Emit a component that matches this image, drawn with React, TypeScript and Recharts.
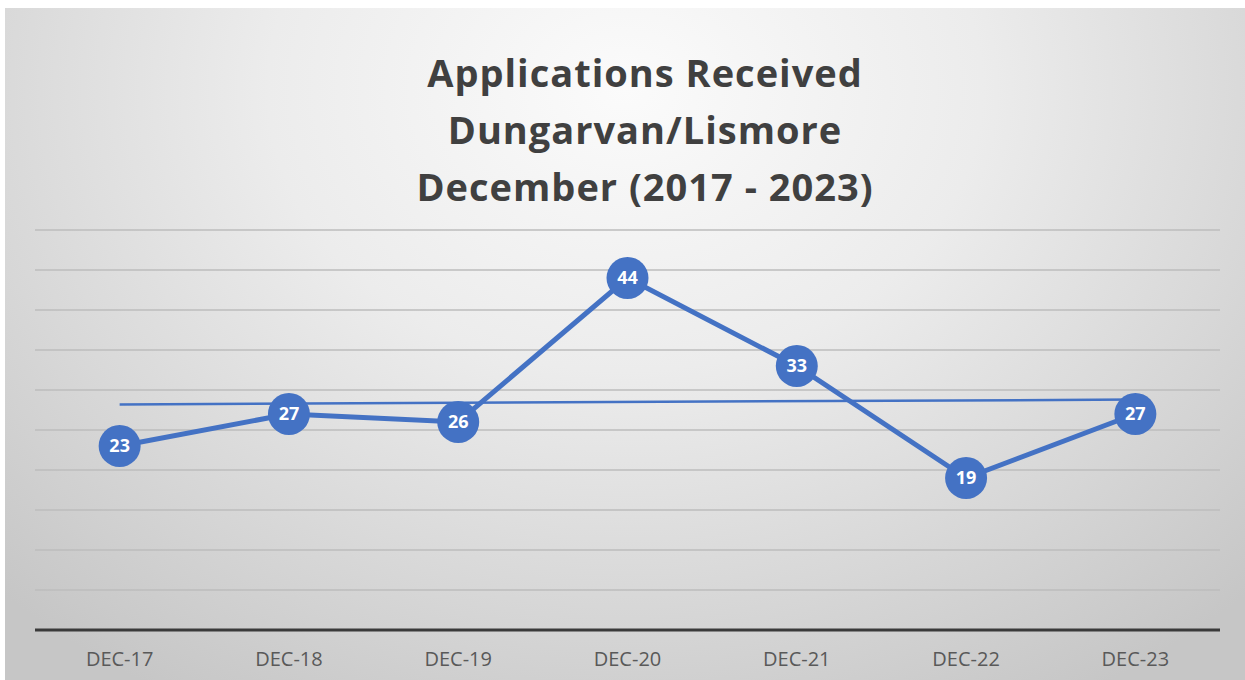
import { LineChart, Line, XAxis, YAxis, CartesianGrid, LabelList, ReferenceLine } from 'recharts';

const MONTHS = ['DEC-17', 'DEC-18', 'DEC-19', 'DEC-20', 'DEC-21', 'DEC-22', 'DEC-23'];
const APPLICATIONS = [23, 27, 26, 44, 33, 19, 27];
const TREND_START = 28.2;
const TREND_END = 28.8;
const Y_TICKS = [0, 5, 10, 15, 20, 25, 30, 35, 40, 45, 50];
const TITLE_LINES = ['Applications Received', 'Dungarvan/Lismore', 'December (2017 - 2023)'];

const BLUE = '#4472C4';
const FONT = '"Open Sans", Lato, sans-serif';

const data = MONTHS.map((m, i) => ({ month: m, value: APPLICATIONS[i] }));

export default function App() {
  return (
    <div style={{ position: 'absolute', left: 0, top: 0, width: 1245, height: 680, background: '#fff', overflow: 'hidden' }}>
      <div
        style={{
          position: 'absolute', left: 5, top: 8, width: 1240, height: 672,
          background: 'radial-gradient(ellipse 72% 105% at 50% 12%, #fbfbfb 0%, #ececec 40%, #d6d6d6 75%, #c6c6c6 100%)',
        }}
      >
        <div
          style={{
            position: 'absolute', left: 20, top: 36, width: 1240, textAlign: 'center',
            fontFamily: FONT, fontWeight: 700, fontSize: 38, letterSpacing: 1, lineHeight: '57px', color: '#404040',
          }}
        >
          {TITLE_LINES.map(t => <div key={t}>{t}</div>)}
        </div>
        <LineChart width={1240} height={672} data={data} margin={{ top: 222, right: 25, left: 30, bottom: 0 }} style={{ position: 'absolute', left: 0, top: 0 }}>
          <CartesianGrid vertical={false} stroke="#bdbdbd" strokeWidth={1.5} />
          <XAxis
            dataKey="month"
            scale="band"
            height={50}
            tickLine={false}
            axisLine={{ stroke: '#3a3a3a', strokeWidth: 3 }}
            tick={{ fill: '#595959', fontSize: 20, fontFamily: FONT }}
            tickMargin={16}
          />
          <YAxis hide domain={[0, 50]} ticks={Y_TICKS} />
          <ReferenceLine
            segment={[{ x: MONTHS[0], y: TREND_START }, { x: MONTHS[MONTHS.length - 1], y: TREND_END }]}
            stroke={BLUE}
            strokeWidth={2.5}
            ifOverflow="visible"
          />
          <Line
            type="linear"
            dataKey="value"
            stroke={BLUE}
            strokeWidth={5}
            dot={{ r: 21, fill: BLUE, stroke: BLUE, strokeWidth: 0 }}
            activeDot={false}
            isAnimationActive={false}
          >
            <LabelList
              dataKey="value"
              position="center"
              fill="#fff"
              fontSize={18}
              fontWeight={700}
              fontFamily={FONT}
            />
          </Line>
        </LineChart>
      </div>
    </div>
  );
}
